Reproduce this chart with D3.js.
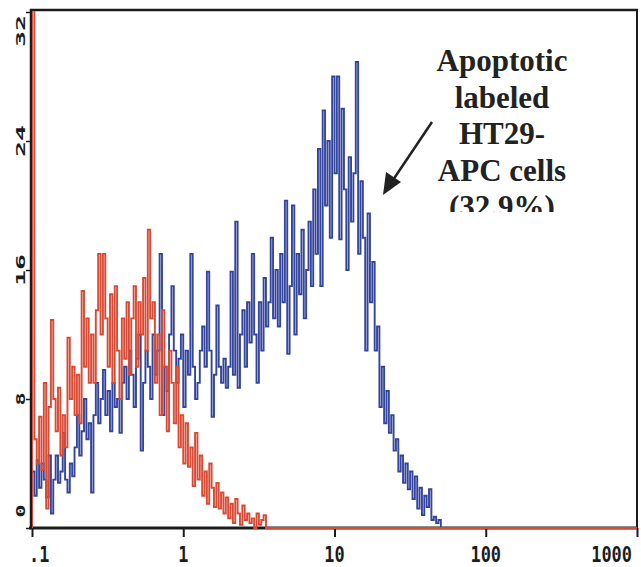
<!DOCTYPE html>
<html>
<head>
<meta charset="utf-8">
<script src="https://cdn.jsdelivr.net/npm/d3@7"></script>
<style>
  body { margin: 0; background: #fff; }
</style>
</head>
<body>
<div id="chart"></div>
<script>
// flow histogram, 256 channels over 4 log decades
const channels = 256

const blueCounts = [
    3.5, 2, 4.2, 2.5, 4, 3, 1.9, 4.5, 0.9, 3, 4.5, 2.8, 3.5, 5.9, 3, 2.2,
    4, 3.2, 5, 7, 4.5, 6, 8, 5.5, 6.5, 2.2, 7, 9, 6.5, 8, 9.8, 7,
    8.5, 6, 9, 7.5, 8, 5.9, 9, 10, 8, 11, 9.5, 7.5, 10.5, 12, 4.8, 9,
    11, 10, 8, 12, 9.5, 11, 17, 7, 10, 8.5, 12, 15, 11, 9, 10.5, 12,
    7.5, 11, 9.5, 17, 10, 8, 9, 11, 12.5, 10, 15.9, 11, 6.9, 9.5, 13.8, 10,
    9, 10.5, 8.7, 10, 15.9, 9.5, 19, 8.7, 12, 13.5, 10, 14, 11.5, 17, 12, 9,
    14, 11, 15.5, 12.5, 14, 18, 13, 16, 12.5, 17, 14, 20.3, 10.8, 15, 20, 12,
    17, 14.5, 18.5, 13, 16, 19, 15, 21, 17, 23.5, 15, 25.9, 20, 24, 18, 28,
    22, 28, 17.9, 26, 21, 16, 23, 19, 22, 28.9, 17, 21.5, 18, 11, 19.5, 14,
    16.5, 11, 12.5, 7.5, 10, 6.5, 8.5, 5.9, 7, 4.8, 5.5, 3.5, 4.5, 2.8, 4, 2.4,
    3.5, 1.8, 3.2, 1.2, 2.5, 0.8, 2, 1.3, 2.4, 0.5, 0.7, 0.3, 0.5
]

const redCounts = [
    40, 5.5, 4, 6.9, 3.6, 9, 1.2, 7.5, 12.9, 8, 6, 8.7, 4.5, 7, 5, 11.8,
    8, 10, 7, 9.5, 6.5, 14.7, 10, 13, 9, 12, 9, 13.5, 17, 12, 17, 13,
    10, 14.5, 9, 15, 11, 8, 13, 10.5, 14, 9.5, 13, 15, 10, 14, 12, 15.5,
    11, 18.5, 13, 14, 9, 12, 7, 13.5, 10, 6, 11, 9, 6.5, 10, 5, 7,
    4, 6.5, 3.8, 5, 2.6, 5.9, 3, 4.5, 2, 3.5, 1.5, 4, 2.5, 1.3, 2.8, 1.2,
    2.2, 0.9, 1.9, 0.6, 1.5, 0.3, 1.8, 0.9, 0.2, 1.4, 0.5, 0.9, 0.3, 0.6, 0, 0.9,
    0.2, 0.5, 0.8
]

const xTickValues = [0.1, 1, 10, 100, 1000]
const xTickLabels = [".1", "1", "10", "100", "1000"]
const yTickValues = [0, 8, 16, 24, 32]
const yTickLabels = ["0", "8", "16", "24", "32"]
const noteLines = ["Apoptotic", "labeled", "HT29-", "APC cells", "(32.9%)"]

const width = 641
const height = 567

let plot = { left: 32, right: 637, top: 12, bottom: 528 }

let blue = "#34459e",
    red = "#d94a35",
    ink = "#1c1c1c"

const svg = d3.select("#chart")
    .append("svg")
    .attr("width", width)
    .attr("height", height)
    .style("background", "#fff")

const x = d3.scaleLog()
    .domain([0.1, 1000])
    .range([plot.left, plot.right])

const y = d3.scaleLinear()
    .domain([0, 32])
    .range([plot.bottom, plot.top])

// channel number -> fluorescence value at its left edge
const edge = ch => 0.1 * Math.pow(10, 4 * ch / channels)

svg.append("clipPath").attr("id", "plot-clip")
    .append("rect")
    .attr("x", plot.left)
    .attr("y", plot.top - 1)
    .attr("width", plot.right - plot.left)
    .attr("height", plot.bottom - plot.top + 2)

// frame
svg.append("line")
    .attr("x1", plot.left - 2).attr("x2", plot.right + 1)
    .attr("y1", 10).attr("y2", 10)
    .attr("stroke", ink).attr("stroke-width", 2.5)
svg.append("line")
    .attr("x1", plot.right).attr("x2", plot.right)
    .attr("y1", 9).attr("y2", plot.bottom)
    .attr("stroke", ink).attr("stroke-width", 2)

// x axis
const xAxis = d3.axisBottom(x)
    .ticks(4)
    .tickSize(9)
    .tickFormat("")

const gx = svg.append("g").attr("id", "x-axis")
    .attr("transform", `translate(0,${plot.bottom})`)
    .call(xAxis)
gx.select(".domain").attr("stroke", ink).attr("stroke-width", 3)
    .attr("d", `M${plot.left - 3},0H${plot.right + 1}`)
gx.selectAll(".tick line").attr("stroke", ink).attr("stroke-width", 2)

const anchors = ["start", "middle", "middle", "middle", "end"]
svg.append("g").attr("id", "x-labels")
    .selectAll("text")
    .data(xTickValues)
    .enter()
    .append("text")
    .attr("x", (d, i) => x(d) + (i == 0 ? -3 : i == 4 ? -5 : 0))
    .attr("y", 562)
    .attr("text-anchor", (d, i) => anchors[i])
    .attr("font-family", "DejaVu Sans Mono")
    .attr("font-weight", "bold")
    .attr("font-size", 21)
    .attr("textLength", (d, i) => xTickLabels[i].length * 10.2)
    .attr("lengthAdjust", "spacingAndGlyphs")
    .attr("fill", ink)
    .text((d, i) => xTickLabels[i])

// y axis
const yAxis = d3.axisLeft(y)
    .tickValues(yTickValues)
    .tickSize(5)
    .tickFormat("")

const gy = svg.append("g").attr("id", "y-axis")
    .attr("transform", `translate(${plot.left - 1},0)`)
    .call(yAxis)
gy.select(".domain").attr("stroke", ink).attr("stroke-width", 2.5)
    .attr("d", `M0,9V${plot.bottom + 1}`)
gy.selectAll(".tick line").attr("stroke", ink).attr("stroke-width", 1.5)

svg.append("g").attr("id", "y-labels")
    .selectAll("text")
    .data(yTickValues)
    .enter()
    .append("text")
    .attr("transform", d => {
        let cy = y(d) + (d == 32 ? 19 : d == 0 ? -17 : 0)
        return `translate(25,${cy}) rotate(-90)`
    })
    .attr("text-anchor", "middle")
    .attr("font-family", "DejaVu Sans Mono")
    .attr("font-weight", "bold")
    .attr("font-size", 13)
    .attr("textLength", (d, i) => yTickLabels[i].length == 1 ? 13 : 32)
    .attr("lengthAdjust", "spacingAndGlyphs")
    .attr("fill", ink)
    .text((d, i) => yTickLabels[i])

// histograms
const stepLine = d3.line()
    .x(d => x(d[0]))
    .y(d => y(d[1]))
    .curve(d3.curveStepAfter)

function histPoints(counts) {
    let full = counts.concat(new Array(channels - counts.length).fill(0))
    let pts = [[edge(0), 0]]
    full.forEach((c, i) => pts.push([edge(i), c]))
    pts.push([edge(channels), full[channels - 1]])
    return pts
}

const hist = svg.append("g").attr("clip-path", "url(#plot-clip)")

hist.append("path")
    .datum(histPoints(blueCounts))
    .attr("d", stepLine)
    .attr("fill", "none")
    .attr("stroke", blue)
    .attr("stroke-width", 1.9)

hist.append("path")
    .datum(histPoints(redCounts))
    .attr("d", stepLine)
    .attr("fill", "none")
    .attr("stroke", red)
    .attr("stroke-width", 1.9)

// annotation
svg.append("clipPath").attr("id", "note-clip")
    .append("rect")
    .attr("x", 400).attr("y", 30)
    .attr("width", 230).attr("height", 182)

svg.append("g").attr("clip-path", "url(#note-clip)")
    .selectAll("text")
    .data(noteLines)
    .enter()
    .append("text")
    .attr("x", 502)
    .attr("y", (d, i) => 71 + i * 36.5)
    .attr("text-anchor", "middle")
    .attr("font-family", "Liberation Serif")
    .attr("font-weight", "bold")
    .attr("font-size", 31)
    .attr("fill", "#222")
    .text(d => d)

svg.append("line")
    .attr("x1", 432).attr("y1", 122)
    .attr("x2", 393).attr("y2", 180)
    .attr("stroke", "#222")
    .attr("stroke-width", 2.5)
svg.append("path")
    .attr("d", "M383,195 L386,172 L401,182 Z")
    .attr("fill", "#222")
</script>
</body>
</html>
